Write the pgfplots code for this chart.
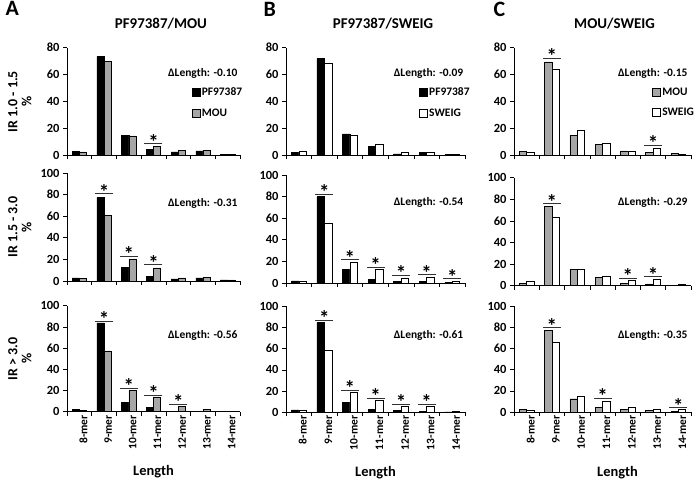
\documentclass[border=0pt]{standalone}
\usepackage{fontspec}
\setmainfont{Carlito}
\usepackage{pgfplots}
\usepackage{pgfplotstable}
\pgfplotsset{compat=1.18}

\definecolor{barg}{RGB}{166,166,166}
\definecolor{sigc}{RGB}{50,50,50}
\newcommand\fs[1]{\fontsize{#1}{#1}\selectfont\bfseries}

% percentages per length, a = first strain, b = second strain
\pgfplotstableread{
x a b
0 3.0 2.5
1 73.3 70.0
2 14.6 14.5
3 4.2 6.7
4 2.5 3.5
5 3.2 3.7
6 0.7 0.7
}\dAone
\pgfplotstableread{
x a b
0 2.0 2.7
1 71.8 68.3
2 16.0 15.0
3 6.5 8.5
4 1.0 2.2
5 2.2 2.2
6 0.5 0.7
}\dBone
\pgfplotstableread{
x a b
0 3.0 2.0
1 69.5 64.3
2 14.9 18.3
3 8.2 8.9
4 3.2 3.2
5 2.0 5.2
6 1.2 0.7
}\dCone
\pgfplotstableread{
x a b
0 3.0 2.5
1 77.5 61.0
2 12.8 20.5
3 4.5 12.2
4 2.0 3.0
5 3.0 3.5
6 1.0 1.0
}\dAtwo
\pgfplotstableread{
x a b
0 1.9 1.5
1 80.0 55.7
2 12.4 19.5
3 3.7 12.7
4 1.5 4.6
5 1.5 5.0
6 0.6 1.5
}\dBtwo
\pgfplotstableread{
x a b
0 2.1 3.7
1 73.4 63.3
2 15.0 15.0
3 8.0 8.9
4 2.1 4.6
5 1.8 5.8
6 0.6 1.5
}\dCtwo
\pgfplotstableread{
x a b
0 2.5 1.0
1 83.7 57.4
2 8.8 20.4
3 3.8 14.1
4 0.6 5.3
5 0.3 2.5
6 0.6 0.6
}\dAthree
\pgfplotstableread{
x a b
0 2.2 1.9
1 84.7 58.3
2 9.7 19.0
3 3.1 11.5
4 1.6 5.6
5 0.6 5.6
6 0.3 0.9
}\dBthree
\pgfplotstableread{
x a b
0 2.8 1.6
1 76.9 65.6
2 12.5 14.7
3 4.7 10.0
4 2.5 4.4
5 1.6 2.5
6 0.6 2.8
}\dCthree

\tikzset{
  ttl/.style={anchor=base, font=\fs{15}},
  dl/.style={anchor=base east, font=\fs{11.5}},
}
\pgfplotsset{
  sqleg/.style={legend image code/.code={\draw[##1] (0bp,-4bp) rectangle (8bp,4bp);}},
  every axis x label/.style={at={(axis description cs:0.5,0)}, anchor=base, yshift=-64bp, font=\fs{14.5}},
  panel/.style={scale only axis, anchor=south west, clip=false,
    xmin=-0.5, xmax=6.5, ymin=0,
    axis x line*=bottom, axis y line*=left,
    axis line style={-, line width=0.6pt, black},
    tick align=outside, tick style={black, line width=0.6pt},
    xtick={-0.5,0.5,...,6.5}, xticklabels={},
    major tick length=4bp,
    /pgf/number format/assume math mode=true,
    yticklabel style={font=\fs{12.5}},
    legend style={draw=none, fill=none, font=\fs{11.5}, row sep=8.5bp, inner sep=0pt,
      nodes={inner sep=1.5bp}, anchor=north west},
    legend cell align=left},
  row1/.style={panel, height=107.6bp, ymax=80, ytick={0,20,...,80}},
  row2/.style={panel, height=108bp, ymax=100, ytick={0,20,...,100}},
  row3/.style={panel, height=106bp, ymax=100, ytick={0,20,...,100},
    extra x ticks={0,...,6},
    extra x tick labels={8-mer,9-mer,10-mer,11-mer,12-mer,13-mer,14-mer},
    extra x tick style={major tick length=0pt, tick style={draw=none},
      xticklabel style={rotate=90, anchor=east, font=\fs{11.5}, yshift=-4bp}},
    xlabel={Length}},
  iry/.style={ylabel style={font=\fs{14}, align=center,
    at={(axis description cs:-0.185,0.5)}, anchor=south}},
  barL/.style={ybar, bar width=0.29, bar shift=-0.145, draw=black, line width=0.5pt, sqleg},
  barR/.style={ybar, bar width=0.29, bar shift=0.145, draw=black, line width=0.5pt, sqleg},
  sig/.style={only marks, mark=-, mark size=9bp,
    mark options={draw=sigc, line width=0.8pt},
    nodes near coords={*},
    every node near coord/.append style={anchor=base, yshift=-5.5bp, font=\fs{21}, text=black, inner sep=0pt},
    forget plot},
}

\begin{document}
\begin{tikzpicture}
\useasboundingbox (0,0) rectangle (696bp,480bp);

% ---- row 1: IR 1.0 - 1.5
\begin{axis}[row1, iry, at={(67bp,324.7bp)}, width=173bp,
  ylabel={IR 1.0 - 1.5\\\%},
  legend style={at={(axis description cs:0.72,0.644)}}]
\addplot[barL, fill=black] table[x=x,y=a] {\dAone};
\addplot[barR, fill=barg] table[x=x,y=b] {\dAone};
\addplot[sig] coordinates {(3,8.7)};
\legend{PF97387,MOU}
\node[ttl] at (axis description cs:0.543,1.183) {PF97387/MOU};
\node[dl] at (axis description cs:1.006,0.73) {ΔLength: -0.10};
\end{axis}

\begin{axis}[row1, at={(286bp,324.7bp)}, width=179bp,
  legend style={at={(axis description cs:0.743,0.644)}}]
\addplot[barL, fill=black] table[x=x,y=a] {\dBone};
\addplot[barR, fill=white] table[x=x,y=b] {\dBone};
\legend{PF97387,SWEIG}
\node[ttl] at (axis description cs:0.542,1.183) {PF97387/SWEIG};
\node[dl] at (axis description cs:1.01,0.73) {ΔLength: -0.09};
\end{axis}

\begin{axis}[row1, at={(514bp,324.7bp)}, width=177bp,
  legend style={at={(axis description cs:0.78,0.644)}}]
\addplot[barL, fill=barg] table[x=x,y=a] {\dCone};
\addplot[barR, fill=white] table[x=x,y=b] {\dCone};
\addplot[sig] coordinates {(1,72) (5,7.4)};
\legend{MOU,SWEIG}
\node[ttl] at (axis description cs:0.568,1.183) {MOU/SWEIG};
\node[dl] at (axis description cs:1.0,0.73) {ΔLength: -0.15};
\end{axis}

% ---- row 2: IR 1.5 - 3.0
\begin{axis}[row2, iry, at={(67bp,199bp)}, width=173bp,
  ylabel={IR 1.5 - 3.0\\\%}]
\addplot[barL, fill=black] table[x=x,y=a] {\dAtwo};
\addplot[barR, fill=barg] table[x=x,y=b] {\dAtwo};
\addplot[sig] coordinates {(1,81) (2,23.2) (3,15)};
\node[dl] at (axis description cs:1.006,0.694) {ΔLength: -0.31};
\end{axis}

\begin{axis}[row2, at={(286bp,197bp)}, width=179bp]
\addplot[barL, fill=black] table[x=x,y=a] {\dBtwo};
\addplot[barR, fill=white] table[x=x,y=b] {\dBtwo};
\addplot[sig] coordinates {(1,82) (2,21.7) (3,14.9) (4,7.1) (5,7.7) (6,4.0)};
\node[dl] at (axis description cs:1.01,0.72) {ΔLength: -0.54};
\end{axis}

\begin{axis}[row2, at={(514bp,194.3bp)}, width=177bp]
\addplot[barL, fill=barg] table[x=x,y=a] {\dCtwo};
\addplot[barR, fill=white] table[x=x,y=b] {\dCtwo};
\addplot[sig] coordinates {(1,75.8) (4,6.7) (5,8.3)};
\node[dl] at (axis description cs:1.0,0.74) {ΔLength: -0.29};
\end{axis}

% ---- row 3: IR > 3.0
\begin{axis}[row3, iry, at={(67bp,68.3bp)}, width=173bp,
  ylabel={IR > 3.0\\\%}]
\addplot[barL, fill=black] table[x=x,y=a] {\dAthree};
\addplot[barR, fill=barg] table[x=x,y=b] {\dAthree};
\addplot[sig] coordinates {(1,85.6) (2,22.3) (3,15.4) (4,6.9)};
\node[dl] at (axis description cs:1.006,0.69) {ΔLength: -0.56};
\end{axis}

\begin{axis}[row3, at={(286bp,67.7bp)}, width=179bp]
\addplot[barL, fill=black] table[x=x,y=a] {\dBthree};
\addplot[barR, fill=white] table[x=x,y=b] {\dBthree};
\addplot[sig] coordinates {(1,86.9) (2,20.6) (3,13.4) (4,7.5) (5,7.8)};
\node[dl] at (axis description cs:1.01,0.70) {ΔLength: -0.61};
\end{axis}

\begin{axis}[row3, at={(514bp,68bp)}, width=177bp,
  xlabel style={at={(axis description cs:0.585,0)}}]
\addplot[barL, fill=barg] table[x=x,y=a] {\dCthree};
\addplot[barR, fill=white] table[x=x,y=b] {\dCthree};
\addplot[sig] coordinates {(1,79.7) (3,12.8) (6,4.1)};
\node[dl] at (axis description cs:1.0,0.695) {ΔLength: -0.35};
\end{axis}

\node[anchor=base west, font=\fs{22}] at (2bp,464bp) {A};
\node[anchor=base west, font=\fs{22}] at (260bp,463bp) {B};
\node[anchor=base west, font=\fs{22}] at (490bp,463bp) {C};
\end{tikzpicture}
\end{document}
